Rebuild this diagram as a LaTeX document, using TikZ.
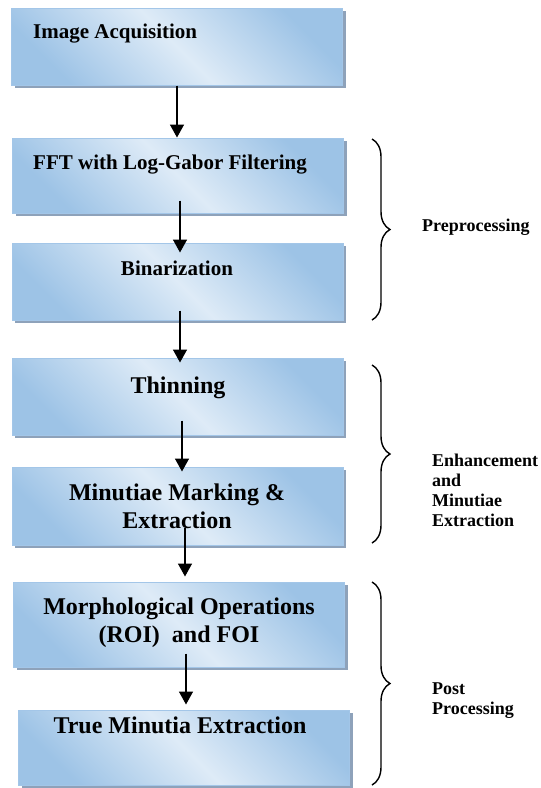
\documentclass[tikz,border=0pt]{standalone}
\usepackage{fontspec}
\setmainfont{Liberation Serif}
\usetikzlibrary{calc}
\usetikzlibrary{arrows.meta,shadows,decorations.pathreplacing}

\definecolor{boxdark}{HTML}{9DC3E6}
\definecolor{boxlight}{HTML}{DEEBF7}
\definecolor{boxedge}{HTML}{A3C6E8}
\definecolor{boxshadow}{HTML}{8EA2BA}

\tikzset{
  stage/.style={rectangle, draw=boxedge, line width=1pt, minimum width=331pt,
    inner sep=0pt, top color=boxdark, bottom color=boxdark, middle color=boxlight,
    shading angle=-45,
    drop shadow={shadow xshift=3pt, shadow yshift=-3pt, fill=boxshadow, opacity=1}},
  smalltext/.style={font={\bfseries\fontsize{21}{25}\selectfont}, inner sep=0pt},
  bigtext/.style={font={\bfseries\fontsize{24}{28}\selectfont}, inner sep=0pt, align=center},
  sidetext/.style={font={\bfseries\fontsize{18}{20}\selectfont}, inner sep=0pt, align=left},
  flow/.style={line width=1.6pt, -{Triangle[length=13pt,width=14pt]}},
  curly/.style={line width=1.4pt, decorate, decoration={brace, amplitude=18pt}},
}

\begin{document}
\begin{tikzpicture}[x=1pt, y=-1pt]
  \useasboundingbox (0,0) rectangle (541,788);

  % stages
  \node[stage, minimum height=77pt] at (177,46.5) (acq) {};
  \node[stage, minimum height=75pt] at (178,175.5) (fft) {};
  \node[stage, minimum height=77pt] at (177.5,281.5) (bin) {};
  \node[stage, minimum height=77pt] at (177.5,396.5) (thin) {};
  \node[stage, minimum height=78pt] at (177.5,506) (minu) {};
  \node[stage, minimum height=85pt] at (179,624.5) (morph) {};
  \node[stage, minimum height=75pt] at (184,747.5) (true) {};

  \node[smalltext, anchor=base west] at (33,38) (acqtext) {Image Acquisition};
  \node[smalltext, anchor=base west] at (33,169) (ffttext) {FFT with Log-Gabor Filtering};
  \node[smalltext, anchor=base] at (177,275) (bintext) {Binarization};
  \node[bigtext, anchor=base] at (178,393) (thintext) {Thinning};
  \node[bigtext] at (177,506) (minutext) {Minutiae Marking \&\\Extraction};
  \node[bigtext] at (179,623) (morphtext) {Morphological Operations\\(ROI)\ \ and FOI};
  \node[bigtext, anchor=base] at (180,733) (truetext) {True Minutia Extraction};

  \draw[flow] (acq.south) -- (acq.south |- fft.north);
  \draw[flow] ([xshift=2pt,yshift=13pt]fft.south) -- ([xshift=2.5pt,yshift=-10pt]bin.north);
  \draw[flow] ([xshift=2.5pt,yshift=10pt]bin.south) -- ([xshift=2.5pt,yshift=-5pt]thin.north);
  \draw[flow] ([xshift=4.5pt,yshift=15pt]thin.south) -- ([xshift=4.5pt,yshift=-5pt]minu.north);
  \draw[flow] ([xshift=7.5pt,yshift=18pt]minu.south) -- ([xshift=6pt,yshift=5pt]morph.north);
  \draw[flow] ([xshift=7pt,yshift=14pt]morph.south) -- ([xshift=2pt,yshift=5pt]true.north);

  % phases
  \draw[curly] (372,139) -- (372,320);
  \draw[curly] (372,365) -- (372,543);
  \draw[curly] (372,582) -- (372,785);

  \node[sidetext, anchor=base west] at (422,231) (pre) {Preprocessing};
  \node[sidetext, anchor=north west] at (432,454) (enh) {Enhancement\\and\\Minutiae\\Extraction};
  \node[sidetext, anchor=north west] at (432,683) (post) {Post\\Processing};

\end{tikzpicture}
\end{document}
